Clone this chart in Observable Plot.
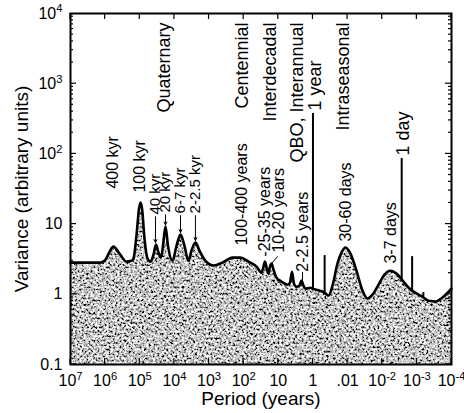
<!DOCTYPE html>
<html><head><meta charset="utf-8">
<script src="https://cdn.jsdelivr.net/npm/d3@7"></script>
<script src="https://cdn.jsdelivr.net/npm/@observablehq/plot@0.6"></script>
<style>body{margin:0;background:#fff}</style>
</head><body><div id="chart"></div>
<script>
// Spectrum curve: period (years) and variance (arbitrary units)
const curvePeriod = [1e7, 1.36e6, 1.04e6, 5.74e5, 3.85e5, 2.42e5, 1.73e5, 1.52e5, 1.245e5, 1.05e5, 9.5e4, 8.6e4, 7.3e4, 5.98e4, 4.91e4, 4.02e4, 3.4e4, 2.88e4, 2.44e4, 2.14e4, 1.81e4, 1.53e4, 1.135e4, 8.7e3, 6.67e3, 5.12e3, 3.93e3, 3.21e3, 2.47e3, 1.89e3, 1355, 745, 409, 210, 124, 72.6, 42.7, 30.6, 27.7, 24.3, 21.2, 19.2, 17.4, 15.7, 13.8, 11.3, 8.11, 5.45, 4.61, 4.04, 3.53, 2.99, 2.45, 2.15, 1.88, 1.64, 1.18, 1, 0.649, 0.464, 0.356, 0.273, 0.196, 0.150, 0.115, 0.0826, 0.0555, 0.0372, 0.0267, 0.0191, 0.0128, 0.0086, 0.00578, 0.00388, 0.00244, 0.00175, 0.00125, 0.0009, 0.000646, 0.000462, 0.00029, 0.000182, 0.0001];
const curveVariance = [2.83, 2.83, 3.0, 4.78, 3.8, 2.92, 3.0, 3.22, 6.85, 16.6, 20.3, 16.6, 6.2, 3.22, 2.92, 3.67, 5.1, 3.93, 3.33, 4.9, 9.2, 4.9, 3.0, 4.9, 7.1, 4.9, 3.0, 4.2, 5.45, 4.2, 3.12, 2.57, 2.83, 3.33, 3.33, 2.92, 2.48, 2.04, 2.32, 2.92, 2.25, 1.97, 2.48, 2.74, 2.25, 1.73, 1.52, 1.37, 1.47, 2.1, 1.42, 1.28, 1.33, 1.57, 1.33, 1.2, 1.24, 1.2, 1.13, 1.06, 0.96, 1.33, 2.74, 3.93, 4.62, 3.8, 2.17, 1.13, 0.87, 0.99, 1.37, 1.91, 2.17, 1.97, 1.52, 1.25, 1.09, 0.99, 0.9, 0.81, 0.79, 0.9, 1.2];

// Narrow spectral lines
const spikePeriod = [1, 0.46, 0.00274, 0.00137, 0.00065];
const spikeBase = [1.2, 1.06, 1.6, 1.12, 0.9];
const spikeTop = [376, 3.56, 86, 3.44, 1.06];

// Axis ticks
const xTicks = [1e7, 1e6, 1e5, 1e4, 1e3, 1e2, 10, 1, 0.1, 1e-2, 1e-3, 1e-4];
const xTickLabels = ["10^7", "10^6", "10^5", "10^4", "10^3", "10^2", "10", "1", ".01", "10^-2", "10^-3", "10^-4"];
const yTicks = [0.1, 1, 10, 100, 1000, 10000];
const yTickLabels = ["0.1", "1", "10", "10^2", "10^3", "10^4"];

// Band labels (anchored at their top end)
const bandLabels = ["Quaternary", "Centennial", "Interdecadal", "QBO, Interannual", "Intraseasonal"];
const bandPeriod = [19300, 110, 17.5, 2.8, 0.135];
const bandTopVariance = [7450, 7450, 7450, 7450, 7450];

// Labels of the two strong lines (anchored at their bottom end)
const lineLabels = ["1 year", "1 day"];
const linePeriod = [0.84, 0.0025];
const lineBottomVariance = [415, 94.6];

// Peak labels (anchored at their bottom end)
const peakLabels = ["400 kyr", "100 kyr", "100-400 years", "-25-35 years", "10-20 years", "2-2.5 years", "30-60 days", "3-7 days"];
const peakPeriod = [614000, 100000, 110, 24.3, 9.9, 2.0, 0.115, 0.00578];
const peakBottomVariance = [32.1, 28.1, 4.94, 3.44, 3.93, 2.1, 5.64, 2.74];

// Orbital labels with arrows
const kyrLabels = ["40 kyr", "20 kyr", "6-7 kyr", "2-2.5 kyr"];
const kyrPeriod = [35200, 18100, 6670, 2470];
const kyrBottomVariance = [13.7, 14.6, 14.2, 14.2];
const kyrArrowTo = [5.45, 9.7, 7.57, 5.82];

// Small pointers
const pointerFromPeriod = [15.7, 2.0];
const pointerFromVariance = [2.74, 2.05];
const pointerToPeriod = [10.6, 2.0];
const pointerToVariance = [3.44, 1.62];

const curve = curvePeriod.map((p, i) => ({p, v: curveVariance[i]}));
const spikes = spikePeriod.map((p, i) => ({p, b: spikeBase[i], t: spikeTop[i]}));
const bands = bandLabels.map((s, i) => ({s, p: bandPeriod[i], v: bandTopVariance[i]}));
const lineLbls = lineLabels.map((s, i) => ({s, p: linePeriod[i], v: lineBottomVariance[i]}));
const peaks = peakLabels.map((s, i) => ({s, p: peakPeriod[i], v: peakBottomVariance[i]}));
const kyrs = kyrLabels.map((s, i) => ({s, p: kyrPeriod[i], v: kyrBottomVariance[i], to: kyrArrowTo[i]}));
const pointers = pointerFromPeriod.map((p, i) => ({p1: p, v1: pointerFromVariance[i], p2: pointerToPeriod[i], v2: pointerToVariance[i]}));

const FONT = "'Liberation Sans', Arial, Helvetica, sans-serif";

const svg = Plot.plot({
  width: 464, height: 413,
  marginLeft: 70, marginRight: 13, marginTop: 13, marginBottom: 49,
  style: {fontFamily: FONT, fontSize: "16px", background: "#fff", color: "#000"},
  x: {type: "log", domain: [1e7, 1e-4]},
  y: {type: "log", domain: [0.1, 1e4]},
  marks: [
    Plot.areaY(curve, {x: "p", y1: 0.1, y2: "v", fill: "#888", curve: "monotone-x"}),
    Plot.line(curve, {x: "p", y: "v", stroke: "#000", strokeWidth: 2.6, curve: "monotone-x"}),
    Plot.ruleX(spikes, {x: "p", y1: "b", y2: "t", stroke: "#000", strokeWidth: 2}),
    Plot.arrow(kyrs, {x1: "p", x2: "p", y1: d => d.v * 0.93, y2: "to", stroke: "#000", strokeWidth: 1, headLength: 5, headAngle: 50}),
    Plot.arrow(pointers, {x1: "p1", y1: "v1", x2: "p2", y2: "v2", stroke: "#000", strokeWidth: 1, headLength: 0}),
    Plot.text(bands, {x: "p", y: "v", text: "s", rotate: -90, textAnchor: "end", lineAnchor: "middle", fontSize: 18}),
    Plot.text(lineLbls, {x: "p", y: "v", text: "s", rotate: -90, textAnchor: "start", lineAnchor: "middle", fontSize: 18}),
    Plot.text(peaks, {x: "p", y: "v", text: "s", rotate: -90, textAnchor: "start", lineAnchor: "middle", fontSize: 16}),
    Plot.text(kyrs, {x: "p", y: "v", text: "s", rotate: -90, textAnchor: "start", lineAnchor: "middle", fontSize: 15}),
    Plot.frame({stroke: "#000", strokeWidth: 2}),
    Plot.axisX({ticks: xTicks, tickFormat: d => xTickLabels[xTicks.indexOf(d)], tickSize: 0, tickPadding: 10, fontSize: 16, label: null}),
    Plot.axisY({ticks: yTicks, tickFormat: d => yTickLabels[yTicks.indexOf(d)], tickSize: 0, tickPadding: 8, fontSize: 16, label: null}),
    Plot.text(["Period (years)"], {frameAnchor: "bottom", textAnchor: "middle", dy: 40, fontSize: 19}),
    Plot.text(["Variance (arbitrary units)"], {frameAnchor: "left", textAnchor: "middle", dx: -49, rotate: -90, fontSize: 19})
  ]
});

// Inward ticks and superscripts, positioned with the plot's own scales
const sx = svg.scale("x"), sy = svg.scale("y");
const root = d3.select(svg);
const X0 = sx.apply(1e7), X1 = sx.apply(1e-4), Y0 = sy.apply(0.1), Y1 = sy.apply(1e4);
const tg = root.append("g").attr("stroke", "#000").attr("stroke-width", 1.2);
for (const t of xTicks) {
  const x = sx.apply(t);
  tg.append("line").attr("x1", x).attr("x2", x).attr("y1", Y0).attr("y2", Y0 - 6);
  tg.append("line").attr("x1", x).attr("x2", x).attr("y1", Y1).attr("y2", Y1 + 6);
}
for (let e = -1; e < 4; e++) {
  for (let m = 1; m < 10; m++) {
    const v = m * Math.pow(10, e);
    const y = sy.apply(v), L = m === 1 ? 6 : 3;
    tg.append("line").attr("x1", X0).attr("x2", X0 + L).attr("y1", y).attr("y2", y);
    tg.append("line").attr("x1", X1).attr("x2", X1 - L).attr("y1", y).attr("y2", y);
  }
}
root.selectAll("text").each(function () {
  if (this.childElementCount) return;
  const m = this.textContent.match(/^10\^(.+)$/);
  if (!m) return;
  this.textContent = "10";
  const ts = document.createElementNS("http://www.w3.org/2000/svg", "tspan");
  ts.setAttribute("dy", "-0.55em");
  ts.setAttribute("font-size", "0.7em");
  ts.textContent = m[1];
  this.appendChild(ts);
});

// Stippled texture for the filled area
const defs = root.insert("defs", ":first-child");
const f = defs.append("filter").attr("id", "grain").attr("x", 0).attr("y", 0).attr("width", 1).attr("height", 1);
f.append("feTurbulence").attr("type", "fractalNoise").attr("baseFrequency", 0.45).attr("numOctaves", 2).attr("seed", 7).attr("result", "noise");
f.append("feColorMatrix").attr("in", "noise").attr("type", "matrix")
  .attr("values", "2.6 0 0 0 -0.75  2.6 0 0 0 -0.75  2.6 0 0 0 -0.75  0 0 0 0 1").attr("result", "grey");
f.append("feComposite").attr("in", "grey").attr("in2", "SourceGraphic").attr("operator", "in");
root.selectAll("g[aria-label='area'] path").attr("filter", "url(#grain)");

document.getElementById("chart").appendChild(svg);
</script>
</body></html>
